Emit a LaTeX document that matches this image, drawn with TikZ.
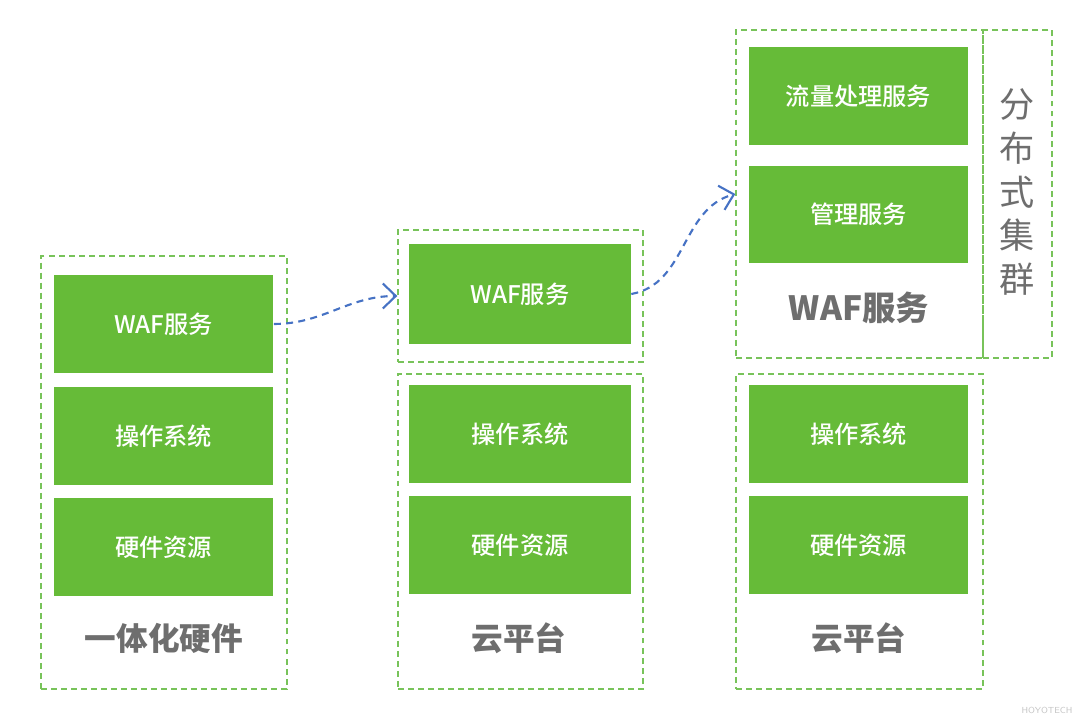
\documentclass[tikz,border=0pt]{standalone}
\usepackage{fontspec}
\usepackage{xcolor}
\usetikzlibrary{arrows.meta}
\newfontfamily\cjk{Noto Sans CJK SC}
\newfontfamily\cjkmed{Noto Sans CJK SC Medium}
\definecolor{blockgreen}{RGB}{102,187,56}
\definecolor{framegreen}{RGB}{120,195,90}
\definecolor{labelgray}{RGB}{110,110,110}
\definecolor{arrowblue}{RGB}{70,114,196}

\begin{document}
\begin{tikzpicture}[x=0.02cm,y=-0.02cm,
  block/.style={fill=blockgreen,text=white,inner sep=0pt,minimum width=4.4cm,minimum height=1.96cm,font=\cjkmed\fontsize{13.8}{15}\selectfont},
  frame/.style={draw=framegreen,dash pattern=on 3.4pt off 2.3pt,line width=0.8pt,inner sep=0pt},
  caption/.style={text=labelgray,font=\cjk\bfseries\fontsize{18}{20}\selectfont},
  flow/.style={draw=arrowblue,line width=1.2pt,dash pattern=on 4pt off 3pt,-{Straight Barb[length=2.6mm,width=5mm]}}]
\useasboundingbox (0,0) rectangle (1080,719);
% Frames
\node[frame,minimum width=4.92cm,minimum height=8.66cm] (lframe) at (164,472.5) {}; % left
\node[frame,minimum width=4.9cm,minimum height=2.64cm] (mframe) at (520.5,296) {}; % middle top
\node[frame,minimum width=4.9cm,minimum height=6.3cm] (mbase) at (520.5,531.5) {}; % middle bottom
\node[frame,minimum width=4.94cm,minimum height=6.56cm] (rframe) at (859.5,194) {}; % right top
\node[frame,minimum width=1.38cm,minimum height=6.56cm] (cluster) at (1017.5,194) {}; % cluster
\node[frame,minimum width=4.94cm,minimum height=6.3cm] (rbase) at (859.5,531.5) {}; % right bottom
% Blocks
\node[block] (lwaf) at (163.5,324) {WAF服务}; % left
\node[block] (los) at (163.5,436) {操作系统};
\node[block] (lhw) at (163.5,547) {硬件资源};
\node[block,minimum width=4.44cm,minimum height=2cm] (mwaf) at (520,294) {WAF服务}; % middle
\node[block,minimum width=4.44cm] (mos) at (520,434) {操作系统};
\node[block,minimum width=4.44cm] (mhw) at (520,545) {硬件资源};
\node[block,minimum width=4.38cm] (rflow) at (858.5,96) {流量处理服务}; % right
\node[block,minimum width=4.38cm] (rmgmt) at (858.5,214.5) {管理服务};
\node[block,minimum width=4.38cm] (ros) at (858.5,434) {操作系统};
\node[block,minimum width=4.38cm] (rhw) at (858.5,545) {硬件资源};
% Labels
\node[caption] (lname) at (164,638) {一体化硬件};
\node[caption] (mname) at (519,638) {云平台};
\node[caption] (rname) at (859,638) {云平台};
\node[caption,font=\cjk\bfseries\fontsize{19}{21}\selectfont] (wname) at (859,308) {WAF服务};
\node[text=labelgray,align=center,font=\cjk\fontsize{20}{25}\selectfont] (cname) at (1017,192) {分\\布\\式\\集\\群};
\node[text=gray!45,font=\sffamily\fontsize{5}{6}\selectfont] (mark) at (1047,710) {HOYOTECH};
% Arrows
\draw[flow] (lwaf.east) to[out=0,in=180] (mframe.west);
\draw[flow] (mwaf.east) to[out=10,in=195] (rframe.west);
\end{tikzpicture}
\end{document}
